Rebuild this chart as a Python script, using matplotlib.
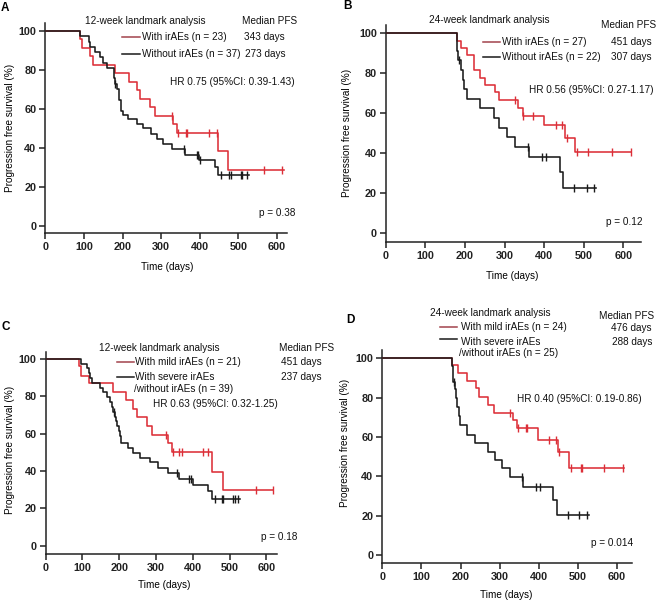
import matplotlib.pyplot as plt
import numpy as np
from matplotlib.lines import Line2D

plt.rcParams['font.family'] = ['Liberation Sans', 'DejaVu Sans']

# ---- data (days, % progression free) ----
# A: 12-week landmark
a_red_t = [0, 90, 95, 117, 123, 180, 218, 237, 245, 271, 284, 332, 342, 447, 473]
a_red_s = [100, 95.7, 91.3, 87.0, 82.6, 78.3, 73.9, 69.6, 65.2, 60.9, 56.5, 52.2, 47.8, 38.3, 28.7]
a_red_c = [327, 344, 364, 368, 425, 444, 567, 612]
a_red_end = 617
a_blk_t = [0, 90, 112, 117, 129, 142, 150, 159, 178, 179, 180, 186, 190, 192, 195, 197, 200,
           215, 237, 254, 273, 289, 306, 327, 362, 398, 440, 447]
a_blk_s = [100, 97.3, 94.6, 91.9, 89.2, 86.5, 83.8, 81.1, 78.4, 75.7, 73.0, 70.2, 67.4, 64.6, 61.8, 59.1, 56.7,
           54.8, 52.4, 50.1, 47.3, 44.5, 41.8, 39.4, 36.4, 33.8, 30.4, 26.2]
a_blk_c = [181, 358, 392, 396, 401, 455, 477, 480, 506, 510, 522]
a_blk_end = 528

# B: 24-week landmark
b_red_t = [0, 181, 189, 206, 222, 238, 250, 276, 287, 335, 346, 400, 452, 478]
b_red_s = [100, 96.3, 92.6, 88.9, 81.5, 77.8, 74.1, 70.4, 66.7, 62.7, 58.6, 54.2, 47.5, 40.8]
b_red_c = [326, 347, 371, 430, 444, 457, 482, 511, 570, 618]
b_red_end = 618
b_blk_t = [0, 179, 181, 183, 190, 195, 197, 204, 237, 272, 287, 305, 326, 362, 440, 448]
b_blk_s = [100, 95.5, 90.9, 86.4, 81.6, 76.8, 72.0, 67.2, 62.4, 57.6, 52.8, 48.0, 43.2, 38.0, 30.4, 22.8]
b_blk_c = [186, 358, 394, 404, 476, 507, 527]
b_blk_end = 531

# C: 12-week landmark, mild vs severe/none
c_red_t = [0, 90, 95, 119, 184, 218, 238, 247, 274, 288, 333, 342, 453, 481]
c_red_s = [100, 96.0, 91.0, 87.0, 82.5, 78.0, 73.2, 68.8, 64.1, 59.3, 54.8, 50.0, 39.6, 29.8]
c_red_c = [327, 345, 363, 370, 428, 442, 571, 617]
c_red_end = 619
c_blk_t = [0, 95, 113, 118, 121, 125, 147, 155, 166, 175, 180, 183, 189, 192, 195, 198, 201, 205,
           224, 238, 256, 283, 306, 333, 362, 401, 442, 451]
c_blk_s = [100, 97.4, 94.9, 92.3, 89.7, 87.2, 84.6, 82.1, 79.5, 76.9, 74.4, 71.8, 69.2, 66.6, 64.0, 61.4, 58.8, 55.0,
           52.5, 49.8, 47.2, 44.6, 41.9, 39.0, 35.7, 32.5, 29.4, 25.2]
c_blk_c = [186, 356, 390, 395, 460, 478, 483, 508, 514, 523]
c_blk_end = 528

# D: 24-week landmark, mild vs severe/none
d_red_t = [0, 178, 194, 216, 239, 247, 271, 286, 333, 345, 399, 450, 478]
d_red_s = [100, 96.6, 92.7, 88.6, 84.7, 80.5, 76.3, 72.3, 68.5, 64.5, 58.6, 52.5, 44.4]
d_red_c = [326, 348, 367, 371, 427, 444, 453, 482, 507, 511, 568, 615]
d_red_end = 618
d_blk_t = [0, 178, 180, 182, 186, 189, 192, 195, 199, 217, 237, 270, 287, 306, 327, 359, 436, 448]
d_blk_s = [100, 96, 92, 88, 84.3, 79.9, 75.3, 70.5, 66.1, 61.2, 56.8, 52.5, 48.3, 44.1, 39.5, 34.6, 28, 20.5]
d_blk_c = [184, 358, 393, 403, 476, 504, 524]
d_blk_end = 529

W, H = 661, 601
RED = '#dc2f38'
RED_LEG = '#a2434b'
BLACK = '#1a1a1a'
FS = 7.2

fig = plt.figure(figsize=(W / 100, H / 100), dpi=100)


def fx(x):
    return x / W


def fy(y):
    return 1 - y / H


def km(ax, t, s, cens, end, color):
    tt = np.array(list(t) + [end], dtype=float)
    ss = np.array(list(s) + [s[-1]], dtype=float)
    ax.step(tt, ss, where='post', color=color, lw=1.15, zorder=3)
    idx = np.searchsorted(tt, cens, side='right') - 1
    ax.plot(cens, ss[idx], ls='none', marker='|', ms=5.5, mew=1.0, color=color, zorder=4)


def panel(x0, x1, ytop, ybot, xmax, ymin, xlab_xy, ylab_xy):
    ax = fig.add_axes([fx(x0), fy(ybot), (x1 - x0) / W, (ybot - ytop) / H])
    ax.set_xlim(0, xmax)
    ax.set_ylim(ymin, 104)
    ax.set_xticks(range(0, 601, 100))
    ax.set_yticks(range(0, 101, 20))
    for side in ['top', 'right']:
        ax.spines[side].set_visible(False)
    for side in ['left', 'bottom']:
        ax.spines[side].set_linewidth(1.1)
        ax.spines[side].set_color('#222222')
    ax.tick_params(length=4, width=1.1, pad=2.5, labelsize=7.8, colors='#222222')
    for lab in ax.get_xticklabels() + ax.get_yticklabels():
        lab.set_fontweight('bold')
    ax.set_xlabel('Time (days)', fontsize=FS)
    ax.set_ylabel('Progression free survival (%)', fontsize=FS)
    ax.xaxis.set_label_coords(fx(xlab_xy[0]), fy(xlab_xy[1]), transform=fig.transFigure)
    ax.yaxis.set_label_coords(fx(ylab_xy[0]), fy(ylab_xy[1]), transform=fig.transFigure)
    ax.xaxis.label.set_va('center')
    ax.yaxis.label.set_va('center')
    return ax


def txt(x, y, s, ha='left', **kw):
    fig.text(fx(x), fy(y), s, ha=ha, va='center', fontsize=FS, color='#111111', **kw)


def leg(x1, x2, y, color):
    fig.add_artist(Line2D([fx(x1), fx(x2)], [fy(y), fy(y)], transform=fig.transFigure,
                          color=color, lw=1.1))


# ---- panel A ----
axA = panel(45.3, 286.6, 23.2, 233, 625, -3.6, (166.7, 266.7), (10, 128))
km(axA, a_red_t, a_red_s, a_red_c, a_red_end, RED)
km(axA, a_blk_t, a_blk_s, a_blk_c, a_blk_end, BLACK)
fig.text(fx(1), fy(8), 'A', fontsize=8.5, fontweight='bold', va='center')
txt(145, 20.7, '12-week landmark analysis', ha='center')
txt(269.5, 20.7, 'Median PFS', ha='center')
leg(121.7, 140, 36.7, RED_LEG)
txt(141.7, 36.7, 'With irAEs (n = 23)')
txt(264.7, 36.7, '343 days', ha='center')
leg(121.7, 140, 54, BLACK)
txt(141.7, 54, 'Without irAEs (n = 37)')
txt(265.7, 54, '273 days', ha='center')
txt(232.5, 81.7, 'HR 0.75 (95%CI: 0.39-1.43)', ha='center')
txt(277, 213.3, 'p = 0.38', ha='center')

# ---- panel B ----
axB = panel(385.8, 641.2, 25.3, 242.3, 645, -4.5, (511.7, 276), (346.7, 133))
km(axB, b_red_t, b_red_s, b_red_c, b_red_end, RED)
km(axB, b_blk_t, b_blk_s, b_blk_c, b_blk_end, BLACK)
fig.text(fx(343), fy(6), 'B', fontsize=8.5, fontweight='bold', va='center')
txt(489.7, 20, '24-week landmark analysis', ha='center')
txt(629, 25, 'Median PFS', ha='center')
leg(482.7, 500, 41.7, RED_LEG)
txt(502.3, 41.7, 'With irAEs (n = 27)')
txt(631, 41.7, '451 days', ha='center')
leg(482.7, 500, 56.7, BLACK)
txt(502.3, 56.7, 'Without irAEs (n = 22)')
txt(631, 56.7, '307 days', ha='center')
txt(591, 90, 'HR 0.56 (95%CI: 0.27-1.17)', ha='center')
txt(624.5, 221.7, 'p = 0.12', ha='center')

# ---- panel C ----
axC = panel(45.7, 276.8, 351.5, 554, 628, -4.4, (164.5, 585), (10, 450))
km(axC, c_red_t, c_red_s, c_red_c, c_red_end, RED)
km(axC, c_blk_t, c_blk_s, c_blk_c, c_blk_end, BLACK)
fig.text(fx(2), fy(326.7), 'C', fontsize=8.5, fontweight='bold', va='center')
txt(158.8, 347.7, '12-week landmark analysis', ha='center')
txt(279.3, 347.7, 'Median PFS')
leg(117.3, 134, 361.7, RED_LEG)
txt(135, 361.7, 'With mild irAEs (n = 21)')
txt(301.7, 361.7, '451 days', ha='center')
leg(117.3, 134, 376.7, BLACK)
txt(135, 376.7, 'With severe irAEs')
txt(301.7, 376.7, '237 days', ha='center')
txt(134, 389.3, '/without irAEs (n = 39)')
txt(215.7, 404, 'HR 0.63 (95%CI: 0.32-1.25)', ha='center')
txt(279.5, 537.3, 'p = 0.18', ha='center')

# ---- panel D ----
axD = panel(382.3, 631.8, 350.4, 563.3, 638, -4.2, (505.7, 595), (345, 443))
km(axD, d_red_t, d_red_s, d_red_c, d_red_end, RED)
km(axD, d_blk_t, d_blk_s, d_blk_c, d_blk_end, BLACK)
fig.text(fx(346), fy(320), 'D', fontsize=8.5, fontweight='bold', va='center')
txt(490.7, 312.7, '24-week landmark analysis', ha='center')
txt(626.7, 316, 'Median PFS', ha='center')
leg(440, 457.3, 326.7, RED_LEG)
txt(460.7, 327.5, 'With mild irAEs (n = 24)')
txt(631.7, 328.3, '476 days', ha='center')
leg(440, 457.3, 339.3, BLACK)
txt(460.7, 341.7, 'With severe irAEs')
txt(631.7, 341.7, '288 days', ha='center')
txt(459.3, 353.3, '/without irAEs (n = 25)')
txt(579.5, 399.3, 'HR 0.40 (95%CI: 0.19-0.86)', ha='center')
txt(611.7, 542.7, 'p = 0.014', ha='center')

fig.savefig('out.png', dpi=100)
